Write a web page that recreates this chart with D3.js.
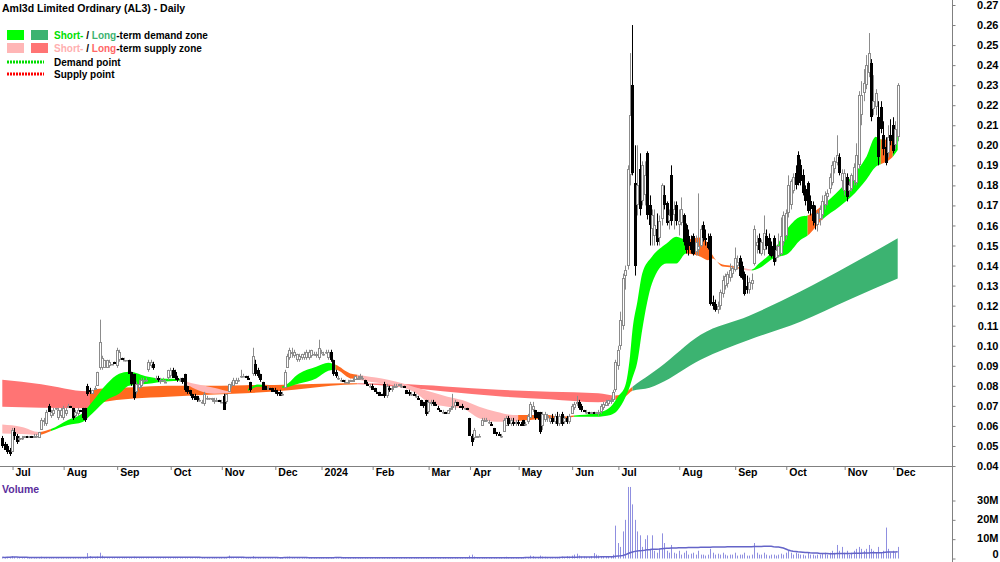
<!DOCTYPE html>
<html><head><meta charset="utf-8">
<script src="https://cdn.jsdelivr.net/npm/d3@7"></script>
<style>
body{margin:0;background:#fff}
svg{display:block}
text{font-family:"Liberation Sans",Arial,sans-serif;font-weight:bold}
</style></head>
<body><svg id="c" width="1000" height="562"></svg>
<script>
// ---------- DATA (prices in thousandths of a dollar, volume in millions) ----------
const openP = [
54,51,50,48,47,57,55,53,54,54, 55,54,55,54,55,54,58,62,61,70, 65,66,69,64,65,64,66,70,70,69, 65,66,68,69,69,80,78,76,78,80,
89,89,89,89,90,91,92,90,93,94, 93,93,93,87,86,77,79,80,82,83, 88,90,91,84,84,82,83,82,84,85, 88,87,84,83,84,86,80,78,76,75,
75,73,72,71,74,74,73,72,72,73, 72,75,72,77,80,80,81,83,85,85, 85,84,82,86,91,88,86,82,80,79, 79,79,78,77,77,76,79,89,94,96,
95,93,93,94,94,94,94,95,96,95, 94,97,96,97,94,97,93,87,84,83, 83,82,82,82,82,83,83,84,84,83, 81,80,80,79,77,77,76,81,75,79,
78,79,80,80,80,80,78,77,76,76, 75,74,73,72,73,67,71,72,71,69, 68,67,67,66,68,69,70,72,70,70, 69,69,64,55,54,54,55,60,62,63,
62,61,59,57,56,55,57,60,64,61, 62,61,62,61,63,61,62,64,68,68, 67,67,60,63,64,62,64,62,65,61, 66,62,64,62,66,69,71,72,70,68,
67,67,66,67,66,66,67,69,70,71, 72,73,78,90,100,110,135,140,185,230, 181,170,188,172,175,196,170,158,155,158, 154,163,175,171,162,185,165,170,160,161,
165,160,155,152,155,147,148,150,160,154, 152,155,122,121,118,120,126,130,131,134, 136,138,140,144,140,136,130,128,131,141, 150,154,146,148,155,154,150,154,144,145,
146,152,155,166,170,177,186,195,190,185, 178,181,172,170,164,160,163,165,170,174, 178,181,188,191,194,182,177,184,177,178, 182,181,190,215,226,230,236,241,218,219,
214,219,205,199,196,205,210,200,204];
const highP = [
55,52,51,49,59,59,56,55,55,55, 55,55,55,56,56,57,64,64,68,71, 68,69,69,69,69,70,69,71,70,69, 68,69,68,69,69,81,79,78,80,87,
113,95,93,93,93,91,92,99,98,94, 94,93,93,87,86,82,83,84,84,84, 93,93,92,85,85,84,84,83,88,89, 89,88,85,84,84,86,80,78,76,76,
75,74,73,77,75,74,74,74,74,73, 73,76,76,81,82,84,84,84,88,86, 85,85,82,99,93,89,86,82,80,80, 79,79,79,78,78,77,88,96,99,99,
98,96,96,96,97,98,98,98,97,97, 103,98,97,98,98,98,93,88,85,84, 83,83,83,83,84,85,85,86,85,83, 82,81,81,79,77,77,76,82,81,80,
80,81,81,81,81,80,78,78,77,77, 76,75,73,72,73,73,73,73,72,70, 68,68,67,68,69,76,73,72,70,71, 69,69,64,56,59,55,56,64,64,64,
63,62,59,57,57,56,64,65,65,64, 64,63,63,62,63,62,66,72,72,68, 67,67,67,67,66,65,66,66,67,66, 67,65,65,66,71,72,75,73,71,68,
68,67,67,67,67,68,71,72,73,73, 74,78,93,100,117,136,140,190,246,260, 200,200,196,192,192,197,175,168,168,166, 165,181,180,172,168,190,172,172,168,174,
166,161,158,155,156,155,176,160,162,158, 156,156,125,123,122,128,135,136,137,141, 140,149,145,145,142,137,135,134,136,160, 155,156,153,165,158,156,152,155,150,156,
164,167,168,185,183,186,190,197,193,188, 180,182,175,172,170,167,170,175,177,178, 186,192,194,205,196,188,188,186,182,186, 191,201,227,232,238,245,256,243,235,228,
222,222,212,204,210,213,214,212,231];
const lowP = [
49,48,46,45,47,53,51,52,53,54, 54,54,54,54,54,54,58,60,60,67, 64,65,68,63,64,63,65,70,69,63, 64,65,67,63,62,75,76,76,78,80,
88,88,89,89,89,91,91,89,92,93, 93,93,86,80,73,76,78,79,81,82, 87,89,88,83,82,81,82,82,83,84, 84,83,82,82,81,77,76,75,73,73,
72,72,71,70,73,73,72,71,72,72, 72,68,71,77,79,80,81,82,84,85, 84,83,77,85,85,84,82,78,78,78, 78,77,76,75,75,75,79,89,93,94,
94,92,92,93,93,93,93,94,95,94, 93,96,95,96,93,92,85,84,83,82, 82,82,81,82,82,83,83,83,83,81, 80,79,78,77,76,75,75,74,74,77,
77,79,79,80,79,79,76,75,75,75, 74,73,70,69,65,66,70,70,70,68, 67,66,66,66,67,68,68,70,69,68, 68,68,55,50,53,54,55,60,62,62,
61,60,56,55,55,54,57,60,60,60, 60,60,60,60,60,60,61,64,67,63, 63,56,58,62,62,61,61,61,60,60, 60,61,61,61,66,68,70,68,67,67,
66,66,66,66,66,65,66,68,70,70, 71,72,77,88,98,108,128,138,180,185, 135,165,165,170,170,163,150,150,150,150, 150,160,168,160,158,160,158,160,155,160,
150,146,145,146,145,145,145,149,152,150, 148,120,118,117,116,118,124,128,129,132, 134,137,138,134,133,125,126,126,128,140, 146,146,145,145,148,145,144,140,142,144,
145,150,153,164,168,176,178,180,180,175, 170,166,165,160,158,157,160,163,168,170, 176,180,186,190,185,178,175,172,175,177, 180,180,188,210,222,228,234,212,215,215,
190,206,195,190,194,200,196,198,202];
const closeP = [
50,48,47,46,58,55,52,54,54,55, 54,55,54,55,55,57,63,63,67,67, 67,68,69,68,68,69,68,70,69,64, 67,68,67,64,63,76,77,78,79,87,
102,94,93,93,92,91,91,98,97,93, 93,93,86,81,74,81,81,83,83,83, 92,92,89,84,83,83,83,82,88,88, 84,84,83,83,82,78,77,76,74,73,
73,73,72,76,74,74,74,73,73,72, 72,68,76,81,81,83,83,83,85,85, 84,83,78,95,86,85,83,78,78,79, 78,77,77,76,75,76,87,95,98,97,
97,96,95,96,96,97,97,98,96,96, 99,97,96,97,97,93,86,85,84,83, 82,82,82,83,83,85,84,85,84,81, 80,80,78,77,76,75,75,75,80,78,
79,80,80,81,80,79,76,76,76,75, 75,73,70,70,66,72,72,71,70,68, 67,67,66,68,69,70,72,70,69,69, 69,68,55,52,58,55,55,63,63,63,
62,60,56,56,55,55,63,64,61,63, 61,62,61,60,60,61,65,71,70,64, 64,57,66,66,65,64,62,65,61,65, 61,64,62,65,70,71,72,69,68,67,
67,66,67,66,67,67,70,71,72,73, 73,77,92,98,113,134,138,188,215,186, 140,180,168,190,185,165,160,165,160,152, 162,180,170,161,165,162,168,162,162,168,
152,148,150,148,146,152,150,158,154,153, 149,121,120,118,120,127,133,135,136,138, 139,144,142,135,134,126,128,132,133,158, 152,148,152,156,150,146,145,142,148,150,
155,165,166,180,182,184,180,181,182,176, 172,167,168,162,161,166,168,172,175,176, 184,190,192,195,186,186,186,174,180,185, 189,195,225,225,231,240,246,214,222,226,
194,208,198,191,204,202,197,208,230];
const volumeM = [
.6,.5,.8,.7,1.2,.8,.5,.4,.3,.4,.3,.3,.4,.3,.3,.5,.9,.7,.8,.6,
.5,.4,.3,.4,.4,.5,.4,.3,.3,.6,.4,.4,.3,.6,.7,2.8,1.2,.8,.6,1.0,
3.0,1.5,.8,.6,.5,.4,.4,.7,.6,.4,.3,.3,.6,.7,.9,.6,.5,.4,.4,.3,
.8,.6,.5,.4,.4,.3,.3,.3,.5,.4,.5,.4,.3,.3,.4,.6,.5,.4,.4,.3,
.3,.3,.3,.5,.3,.3,.3,.3,.3,.3,.3,.6,.5,1.5,.8,.6,.5,.4,.5,.3,
.3,.3,.5,1.2,.8,.5,.4,.4,.3,.3,.3,.3,.4,.3,.3,.3,.6,.9,1.0,.7,
.5,.4,.4,.5,.4,.4,.3,.3,.3,.3,.6,.4,.3,.3,.3,.5,.7,.5,.4,.3,
.3,.3,.3,.3,.3,.4,.3,.3,.3,.4,.4,.3,.4,.3,.3,.3,.3,.6,.5,.4,
.3,.3,.3,.3,.3,.3,.4,.3,.3,.3,.3,.3,.5,.4,.7,.5,.4,.3,.3,.3,
.3,.3,.3,.3,.3,.4,.5,.4,.3,.3,.3,.3,1.5,2.0,1.0,.5,.4,.6,.5,.4,
.4,.4,.5,.4,.4,.3,.8,.9,.6,.5,.5,.4,.5,.4,.5,.6,.8,1.5,1.2,.8,
.8,1.5,1.0,.9,.8,.6,.8,.7,.8,.9,1.0,.8,1.2,1.0,1.5,2.0,2.5,1.5,1.0,1.0,
.8,.8,1.2,2.8,2.0,1.5,1.0,.8,1.0,1.2,
1.0,2,17,8,6,14,20,37,37,28, 20,14,12,6,10,12,5,12,4,3, 5,13,8,4,3,7,3,2.5,4,2,
3,4,2,2.5,3,2,4,2,2,1.5, 2,5,3,2,2.5,2,3,2,1.5,2, 2,3,1.5,2,2,3,1.5,1.5,2,8,
3,2,2,3,2,1.5,2,2,1.5,2, 2.5,2,3,4,3,2,3,2.5,2,2, 1.5,3,2,2,1.5,2,2,2.5,3,2,
3,4,3,7,4,6,3,4,2,3, 4,5,6,5,4,5,7,5,4,3, 6,3,4,16,5,3,4,3,6];

// month axis: labels and the candle index of each month's first bar
const monthLabels = ["Jul","Aug","Sep","Oct","Nov","Dec","2024","Feb","Mar","Apr","May","Jun","Jul","Aug","Sep","Oct","Nov","Dec"];
const monthIdx    = [4,25,47,69,90,112,131,152,175,192,212,234,253,278,301,322,346,366];
const priceTicks = [0.04,0.05,0.06,0.07,0.08,0.09,0.10,0.11,0.12,0.13,0.14,0.15,0.16,0.17,0.18,0.19,0.20,0.21,0.22,0.23,0.24,0.25,0.26,0.27];
const volTicks = [0,10,20,30];
const volTickLabels = ["0","10M","20M","30M"];

// zone bands: sample bar index, upper edge, lower edge, state (D demand, S supply, N neutral)
const shortIdx = [0,8,15,20,27,33,37,43,48,52,60,67,74,75,81,87,94,101,105,108,115,122,129,134,137,143,146,151,156,162,169,176,183,189,196,203,210,212,217,224,230,235,244,250,253,256,258,259,261,263,267,273,277,281,287,290,292,296,300,303,305,308,311,317,323,328,331,337,344,349,355,359,361,366,368];
const shortHi  = [60.7,59.5,57.0,58.5,63.0,66.5,72.0,81.0,86.0,87.0,84.5,83.5,83.5,82.5,80.5,79.0,77.2,78.5,80.7,80.5,79.8,86.2,89.5,91.5,90.5,86.2,85.5,84.5,83.7,82.0,79.6,77.1,74.6,72.9,69.6,67.1,65.5,65.5,65.5,65.5,64.6,65.2,66.3,69.6,74.6,80,95,108,122,136,144.4,151,154.4,153,154,151,145,140.5,139.8,139,138.6,138,141,147.7,159,164.4,165,170,177.7,184.3,194,204.3,203,202.6,206];
const shortLo  = [56.2,56.0,55.5,57.5,60.5,62.0,66.2,73.0,76.0,80.0,81.0,82.2,82.5,81.5,77.5,76.0,76.5,77.5,79.5,79.5,79.0,81.2,83.7,87.5,88.0,83.7,83.2,82.0,81.3,79.9,77.1,71.3,69.6,68.8,63.8,62.1,62.1,62.5,62.9,63.8,63.3,64.6,64.6,65.5,68.0,74,80,84,92,108,131,141,141,146,144.4,142.7,143.5,139.5,139,138.4,137.8,137.5,138.6,143.6,146,152.7,155,163,169.4,174.4,182.7,189.3,190.5,194.3,197.6];
const shortState = "SSNDDDDDDDDDNSSSNDDNDDDDNNSSSSSSSSSSSNNNNDDDDDDDDDDDDNNNNNNNSDDDDDNDDDDDNDD";
const longIdx = [0,16,35,36,40,54,68,80,100,120,135,146,162,182,204,225,245,252,256,259,266,270,287,307,328,348,368];
const longHi  = [83.0,80.8,77.3,77.5,78.5,79.3,80.0,80.0,80.3,80.7,81.2,81.3,81.0,79.7,78.0,77.1,76.3,75.2,76.5,79.5,85.5,89,105.5,115,127,140,153.6];
const longLo  = [69.5,69.0,68.8,69.5,71.5,73.7,74.6,75.3,76.3,78.0,80.0,80.8,79.6,77.2,74.8,73.3,71.8,73.0,74.5,77.5,79.0,81,93,103,112,123,133.6];
const longState = "SSSNNNNNNNNSSSSSSNNDDDDDDDD";

// ---------- DRAWING ----------
const svg = d3.select("#c");
const AX = 952, PB = 466;
const x = d3.scaleLinear().domain([0, 368]).range([2.3, 897.7]);
const y = d3.scaleLinear().domain([0.04, 0.27]).range([PB, 5]);
const yv = d3.scaleLinear().domain([0, 30]).range([558.5, 500.5]);

const defs = svg.append("defs");
defs.append("clipPath").attr("id","pclip").append("rect").attr("x",0).attr("y",0).attr("width",AX).attr("height",PB);

const colorsShort = {D:"#00ff00", S:"#ffb6b6", N:"#ff6a1f"};
const colorsLong  = {D:"#3cb371", S:"#ff7474", N:"#ff6a1f"};

const gP = svg.append("g").attr("clip-path","url(#pclip)");
let clipN = 0;
function drawBand(idx, hi, lo, state, colors) {
  const pts = idx.map((d,k)=>({i:d, h:hi[k]/1000, l:lo[k]/1000}));
  const area = d3.area().x(d=>x(d.i)).y0(d=>y(d.l)).y1(d=>y(d.h)).curve(d3.curveMonotoneX);
  const dPath = area(pts);
  let s = 0;
  const runs = [];
  for (let k=1;k<idx.length;k++) {
    if (state[k] !== state[s] && k < idx.length-1 || (k === idx.length-1)) {
      runs.push([s,k]); s = k;
    }
  }
  runs.forEach(([a,b])=>{
    const id = "bc"+(clipN++);
    const x0 = x(idx[a]) - (a===0?3:0), x1 = x(idx[b]) + (b===idx.length-1?3:0);
    defs.append("clipPath").attr("id",id).append("rect").attr("x",x0).attr("y",0).attr("width",x1-x0).attr("height",PB);
    gP.append("path").attr("d",dPath).attr("fill",colors[state[a]]).attr("clip-path","url(#"+id+")");
  });
}
drawBand(longIdx, longHi, longLo, longState, colorsLong);
drawBand(shortIdx, shortHi, shortLo, shortState, colorsShort);

// candles
const N = closeP.length;
const gC = gP.append("g");
for (let i=0;i<N;i++) {
  const o=openP[i]/1000, h=highP[i]/1000, l=lowP[i]/1000, c=closeP[i]/1000;
  const cx = Math.round(x(i));
  const up = c >= o;
  gC.append("line").attr("x1",cx+0.5).attr("x2",cx+0.5).attr("y1",y(h)).attr("y2",y(l))
    .attr("stroke", up ? "#8c8c8c" : "#000").attr("stroke-width",1);
  const yt = Math.round(y(Math.max(o,c))), yb = Math.round(y(Math.min(o,c)));
  if (up) {
    gC.append("rect").attr("x",cx-0.5).attr("y",yt+0.5).attr("width",2).attr("height",Math.max(yb-yt-1,0.5))
      .attr("fill","#fff").attr("stroke","#8c8c8c").attr("stroke-width",1);
  } else {
    gC.append("rect").attr("x",cx-1).attr("y",yt).attr("width",3).attr("height",Math.max(yb-yt,1)).attr("fill","#000");
  }
}

// axes lines
svg.append("line").attr("x1",0).attr("x2",AX).attr("y1",PB+0.5).attr("y2",PB+0.5).attr("stroke","#808080");
svg.append("line").attr("x1",AX+0.5).attr("x2",AX+0.5).attr("y1",0).attr("y2",562).attr("stroke","#808080");

// price axis
const ya = svg.append("g").attr("transform",`translate(${AX+0.5},0)`)
  .call(d3.axisRight(y).tickValues(priceTicks).tickSize(3).tickFormat(d3.format(".2f")));
ya.select(".domain").remove();
ya.selectAll("line").attr("stroke","#808080");
ya.selectAll("text").attr("x",46).attr("text-anchor","end").attr("fill","#000")
  .style("font-size","11px").style("font-family","'Liberation Sans',Arial,sans-serif").style("font-weight","bold");

// month axis
const xa = svg.append("g").attr("transform",`translate(0,${PB})`)
  .call(d3.axisBottom(x).tickValues(monthIdx).tickSize(4).tickFormat((d,k)=>monthLabels[k]));
xa.select(".domain").remove();
xa.selectAll("line").attr("stroke","#808080").attr("transform","translate(0.5,0)");
xa.selectAll("text").attr("text-anchor","start").attr("x",3).attr("y",3).attr("dy","0.71em").attr("fill","#000")
  .style("font-size","10.5px").style("font-family","'Liberation Sans',Arial,sans-serif").style("font-weight","bold");

// volume
const gV = svg.append("g");
for (let i=0;i<N;i++) {
  const cx = Math.round(x(i))+0.5;
  gV.append("line").attr("x1",cx).attr("x2",cx).attr("y1",yv(0)).attr("y2",yv(volumeM[i])).attr("stroke","#8f8fe0").attr("stroke-width",1);
}
const win = 65;
const volMA = volumeM.map((v,i)=>d3.mean(volumeM.slice(Math.max(0,i-win+1), i+1)));
gV.append("path").attr("d", d3.line().x((d,i)=>x(i)).y(d=>yv(d))(volMA))
  .attr("fill","none").attr("stroke","#6464c8").attr("stroke-width",1.5);

const va = svg.append("g").attr("transform",`translate(${AX+0.5},0)`)
  .call(d3.axisRight(yv).tickValues(volTicks).tickSize(3).tickFormat((d,k)=>volTickLabels[k]));
va.select(".domain").remove();
va.selectAll("line").attr("stroke","#808080");
va.selectAll("text").attr("x",46).attr("text-anchor","end").attr("fill","#000")
  .attr("dy",(d)=> d===0 ? "-0.05em" : "0.25em")
  .style("font-size","11px").style("font-family","'Liberation Sans',Arial,sans-serif").style("font-weight","bold");

svg.append("text").attr("x",2).attr("y",493).text("Volume").attr("fill","#5a2d9c").style("font-size","10.5px");

// title
svg.append("text").attr("x",2).attr("y",12).text("Aml3d Limited Ordinary (AL3) - Daily").attr("fill","#000").style("font-size","10.5px");

// legend
const lg = svg.append("g");
lg.append("rect").attr("x",7).attr("y",30).attr("width",17).attr("height",10).attr("fill","#00ff00");
lg.append("rect").attr("x",31).attr("y",30).attr("width",17).attr("height",10).attr("fill","#3cb371");
lg.append("rect").attr("x",7).attr("y",43).attr("width",17).attr("height",10).attr("fill","#ffb6b6");
lg.append("rect").attr("x",31).attr("y",43).attr("width",17).attr("height",10).attr("fill","#ff7474");
lg.append("line").attr("x1",7).attr("x2",44).attr("y1",62).attr("y2",62).attr("stroke","#00dd00").attr("stroke-width",3).attr("stroke-dasharray","2,1");
lg.append("line").attr("x1",7).attr("x2",44).attr("y1",74).attr("y2",74).attr("stroke","#ff0000").attr("stroke-width",3).attr("stroke-dasharray","2,1");
function legText(yy, parts) {
  const t = lg.append("text").attr("x",54).attr("y",yy).style("font-size","10px");
  parts.forEach(([s,c])=>t.append("tspan").text(s).attr("fill",c));
}
legText(39, [["Short-","#00e000"],[" / ","#000"],["Long","#3cb371"],["-term demand zone","#000"]]);
legText(52, [["Short-","#ffb0b0"],[" / ","#000"],["Long","#ff6666"],["-term supply zone","#000"]]);
legText(66, [["Demand point","#000"]]);
legText(78, [["Supply point","#000"]]);
</script></body></html>
